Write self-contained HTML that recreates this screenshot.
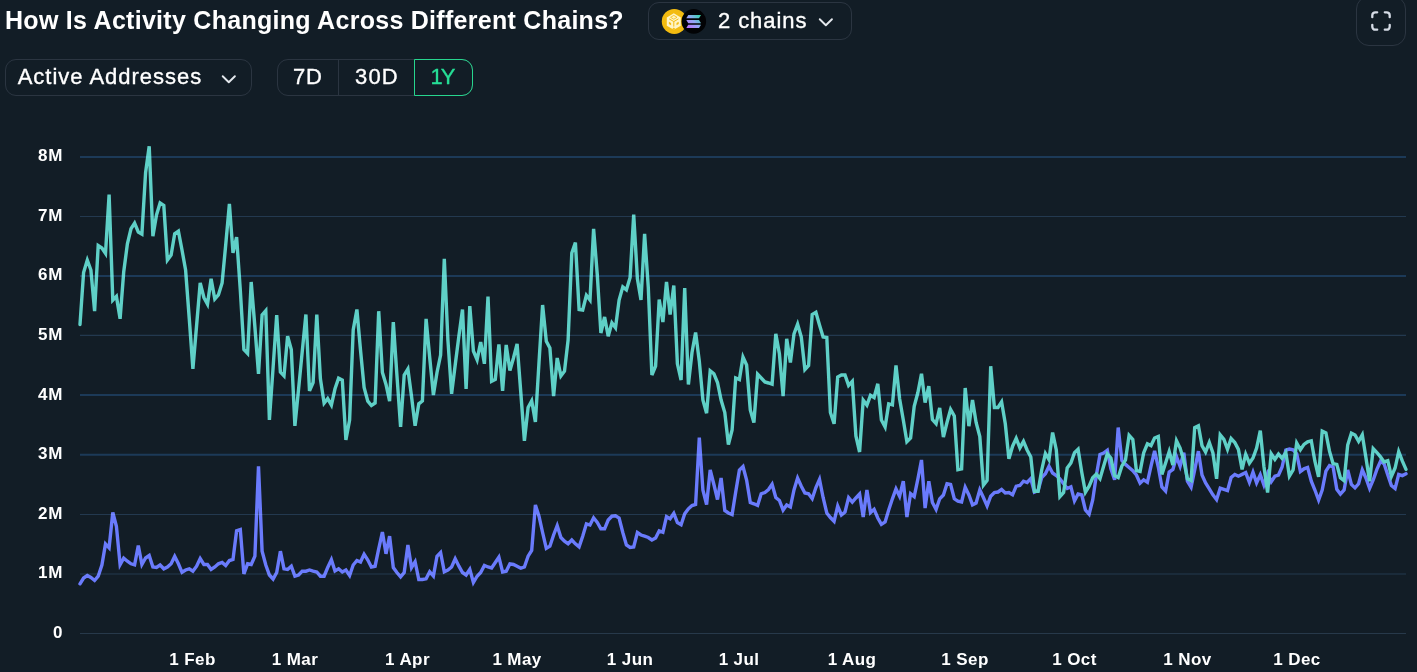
<!DOCTYPE html>
<html>
<head>
<meta charset="utf-8">
<title>How Is Activity Changing Across Different Chains?</title>
<style>
  html, body { margin: 0; padding: 0; }
  body {
    width: 1417px; height: 672px; overflow: hidden; position: relative;
    background: #121d26;
    font-family: "Liberation Sans", sans-serif;
    color: #ffffff;
  }
  .abs { position: absolute; white-space: nowrap; }
  .title {
    left: 5px; top: 6px; font-size: 25px; font-weight: bold; line-height: 29px;
    letter-spacing: 0.28px; color: #ffffff;
  }
  .box { position: absolute; box-sizing: border-box; border: 1px solid #2b3541; border-radius: 11px; }
  .txt { font-size: 22px; line-height: 26px; color: #ffffff; -webkit-text-stroke: 0.35px #ffffff; }
  .seg { position: absolute; box-sizing: border-box; top: 0; height: 36px; }
  .ylab { position: absolute; right: 1353.7px; letter-spacing: 0.8px; font-size: 17px; font-weight: bold; line-height: 20px; color: #ffffff; white-space: nowrap; }
  .xlab { position: absolute; top: 650px; font-size: 17px; font-weight: bold; line-height: 20px; color: #ffffff; white-space: nowrap; transform: translateX(-50%); letter-spacing: 0.4px; }
</style>
</head>
<body>

<!-- Title -->
<div class="abs title">How Is Activity Changing Across Different Chains?</div>

<!-- Chains selector -->
<div class="box" style="left:648px; top:2px; width:204px; height:38px;"></div>
<svg class="abs" style="left:660px; top:8px;" width="48" height="28" viewBox="0 0 48 28">
  <defs>
    <linearGradient id="solg" gradientUnits="userSpaceOnUse" x1="27" y1="20" x2="40.5" y2="7">
      <stop offset="0" stop-color="#c06cff"/>
      <stop offset="0.5" stop-color="#93a6f6"/>
      <stop offset="1" stop-color="#2fd9a4"/>
    </linearGradient>
  </defs>
  <circle cx="14.3" cy="13.4" r="12.5" fill="#f3bb10"/>
  <path d="M13.8 5.3 L20.8 9.4 L20.8 17.7 L13.8 21.8 L6.8 17.7 L6.8 9.4 Z" fill="#fff4c4"/>
  <g fill="none" stroke="#f3bb10" stroke-width="1" stroke-linejoin="round">
    <path d="M13.8 13.6 L13.8 18.6 M13.8 13.6 L9.2 10.9 M13.8 13.6 L18.4 10.9"/>
    <path d="M13.8 7.4 L17 9.3 L13.8 11.2 L10.6 9.3 Z" stroke-width="0.8"/>
  </g>
  <rect x="8.9" y="14.3" width="2.2" height="2.4" fill="#f3bb10" transform="skewY(30) translate(0 -5.8)"/>
  <rect x="16.5" y="14.3" width="2.2" height="2.4" fill="#f3bb10" transform="skewY(-30) translate(0 10.2)"/>
  <path d="M12.3 21 L13.8 19.6 L15.3 21 L13.8 21.9 Z" fill="#f3bb10"/>
  <circle cx="33.8" cy="13.4" r="12.3" fill="#020305"/>
  <g fill="url(#solg)">
    <path d="M28.3 6.9 L41 6.9 L39 10.2 L26.3 10.2 Z"/>
    <path d="M26.3 11.9 L39 11.9 L41 15.2 L28.3 15.2 Z"/>
    <path d="M28.3 16.7 L41 16.7 L39 20 L26.3 20 Z"/>
  </g>
</svg>
<div class="abs txt" style="left:718px; top:8px; letter-spacing:0.92px;">2 chains</div>
<svg class="abs" style="left:817px; top:16px;" width="18" height="12" viewBox="0 0 18 12">
  <path d="M2.75 3.25 L8.85 9.25 L14.95 3.25" fill="none" stroke="#e4e8ed" stroke-width="1.9" stroke-linecap="round" stroke-linejoin="round"/>
</svg>

<!-- Fullscreen button -->
<div class="box" style="left:1356px; top:-4px; width:50px; height:50px; border-radius:13px;"></div>
<svg class="abs" style="left:1369px; top:9.3px;" width="24" height="24" viewBox="0 0 24 24">
  <g fill="none" stroke="#d6dce6" stroke-width="2.3" stroke-linecap="round" stroke-linejoin="round">
    <path d="M3.3 8.2 V6.3 a3 3 0 0 1 3 -3 H8.2"/>
    <path d="M15.8 3.3 H17.7 a3 3 0 0 1 3 3 V8.2"/>
    <path d="M20.7 15.8 V17.7 a3 3 0 0 1 -3 3 H15.8"/>
    <path d="M8.2 20.7 H6.3 a3 3 0 0 1 -3 -3 V15.8"/>
  </g>
</svg>

<!-- Metric dropdown -->
<div class="box" style="left:5px; top:59px; width:247px; height:37px;"></div>
<div class="abs txt" style="left:17.7px; top:64px; letter-spacing:0.99px;">Active Addresses</div>
<svg class="abs" style="left:220px; top:72.5px;" width="18" height="12" viewBox="0 0 18 12">
  <path d="M2.7 3.2 L8.8 9.2 L14.9 3.2" fill="none" stroke="#e4e8ed" stroke-width="1.9" stroke-linecap="round" stroke-linejoin="round"/>
</svg>

<!-- Period toggle -->
<div class="box" style="left:277px; top:59px; width:196px; height:37px;">
  <div class="seg" style="left:60px; width:1px; background:#2b3541; top:0; height:35px;"></div>
</div>
<div class="box" style="left:414px; top:59px; width:59px; height:37px; border-color:#27d58e; border-radius:0 11px 11px 0;"></div>
<div class="abs txt" style="left:293px; top:64px; letter-spacing:0.8px;">7D</div>
<div class="abs txt" style="left:355px; top:64px; letter-spacing:1.2px;">30D</div>
<div class="abs txt" style="left:430.5px; top:64px; letter-spacing:-2px; color:#26df97; -webkit-text-stroke-color:#26df97;">1Y</div>

<!-- Chart -->
<svg class="abs" style="left:0; top:0;" width="1417" height="672" viewBox="0 0 1417 672">
  <!--PURPLE--><polyline id="purple" fill="none" stroke="#6a7bfc" stroke-width="3.4" stroke-linejoin="miter" stroke-miterlimit="4" stroke-linecap="round" points="80.0,583.8 83.6,578.0 87.3,575.5 90.9,577.5 94.6,580.5 98.2,576.2 101.9,565.0 105.5,543.9 109.1,547.8 112.8,512.5 116.4,526.2 120.1,564.7 123.7,558.2 127.4,561.2 131.0,563.8 134.6,564.9 138.3,545.5 141.9,564.5 145.6,558.0 149.2,555.5 152.9,567.0 156.5,567.5 160.1,565.0 163.8,568.8 167.4,567.0 171.1,563.8 174.7,556.4 178.4,563.8 182.0,572.3 185.6,570.0 189.3,568.8 192.9,571.2 196.6,566.2 200.2,558.6 203.9,564.5 207.5,564.5 211.1,569.5 214.8,567.0 218.4,563.8 222.1,562.5 225.7,565.6 229.4,560.5 233.0,559.5 236.6,530.8 240.3,529.6 243.9,573.8 247.6,563.8 251.2,564.5 254.9,556.2 258.5,466.2 262.1,551.2 265.8,565.0 269.4,575.0 273.1,579.0 276.7,572.5 280.4,551.2 284.0,568.8 287.6,569.5 291.3,566.2 294.9,576.2 298.6,575.0 302.2,571.2 305.9,571.2 309.5,570.0 313.1,571.2 316.8,572.0 320.4,576.2 324.1,576.2 327.7,567.5 331.4,559.7 335.0,570.9 338.6,568.8 342.3,572.0 345.9,570.0 349.6,575.5 353.2,565.0 356.9,560.5 360.5,562.0 364.1,554.2 367.8,560.0 371.4,567.0 375.1,566.2 378.7,548.8 382.4,532.0 386.0,553.8 389.6,536.2 393.3,567.5 396.9,572.5 400.6,576.8 404.2,572.5 407.9,545.0 411.5,567.6 415.1,561.7 418.8,579.5 422.4,579.5 426.1,578.8 429.7,571.8 433.4,576.0 437.0,556.2 440.6,552.5 444.3,571.7 447.9,570.0 451.6,567.0 455.2,558.7 458.9,566.2 462.5,572.5 466.1,575.0 469.8,569.3 473.4,582.5 477.1,576.2 480.7,572.5 484.4,565.5 488.0,567.0 491.6,568.0 495.3,562.5 498.9,557.2 502.6,572.0 506.2,571.2 509.9,563.8 513.5,564.5 517.1,566.2 520.8,568.2 524.4,567.0 528.1,556.2 531.7,550.5 535.4,505.0 539.0,516.2 542.6,532.5 546.3,548.3 549.9,546.2 553.6,535.0 557.2,525.7 560.9,537.5 564.5,541.2 568.1,543.8 571.8,540.0 575.4,543.8 579.1,546.9 582.7,536.2 586.4,523.8 590.0,525.0 593.6,517.8 597.3,522.5 600.9,528.8 604.6,528.8 608.2,520.0 611.9,516.2 615.5,515.8 619.1,518.0 622.8,532.5 626.4,545.0 630.1,547.5 633.7,547.0 637.4,532.6 641.0,535.0 644.6,536.2 648.3,537.5 651.9,540.0 655.6,538.0 659.2,530.8 662.9,532.3 666.5,516.7 670.1,518.8 673.8,513.3 677.4,522.5 681.1,524.7 684.7,513.8 688.4,508.8 692.0,505.5 695.6,504.5 699.3,437.5 702.9,490.0 706.6,504.5 710.2,470.0 713.9,484.5 717.5,499.5 721.1,478.0 724.8,510.5 728.4,513.0 732.1,514.6 735.7,492.0 739.4,470.0 743.0,466.5 746.6,480.0 750.3,502.5 753.9,503.8 757.6,505.4 761.2,493.8 764.9,492.5 768.5,489.5 772.1,484.2 775.8,497.5 779.4,500.5 783.1,510.1 786.7,505.0 790.4,507.0 794.0,490.0 797.6,478.0 801.3,486.2 804.9,493.0 808.6,493.8 812.2,498.7 815.9,487.5 819.5,479.4 823.1,497.5 826.8,513.0 830.4,517.5 834.1,521.3 837.7,506.1 841.4,515.0 845.0,512.0 848.6,497.7 852.3,502.2 855.9,498.0 859.6,494.0 863.2,517.0 866.9,490.0 870.5,512.6 874.1,509.3 877.8,518.0 881.4,524.4 885.1,522.0 888.7,510.0 892.4,498.8 896.0,488.9 899.6,496.2 903.3,481.2 906.9,517.0 910.6,493.6 914.2,496.6 917.9,478.8 921.5,460.0 925.1,508.0 928.8,481.2 932.4,502.5 936.1,509.4 939.7,498.8 943.4,495.0 947.0,483.8 950.6,484.5 954.3,498.8 957.9,501.2 961.6,502.0 965.2,487.2 968.9,495.0 972.5,504.8 976.1,503.0 979.8,489.9 983.4,497.5 987.1,505.9 990.7,496.2 994.4,492.5 998.0,492.0 1001.6,489.5 1005.3,493.0 1008.9,492.5 1012.6,494.8 1016.2,486.2 1019.9,485.5 1023.5,481.2 1027.1,482.5 1030.8,478.6 1034.4,492.2 1038.1,490.5 1041.7,477.5 1045.4,473.8 1049.0,466.3 1052.6,473.0 1056.3,475.5 1059.9,478.8 1063.6,483.8 1067.2,488.5 1070.9,486.8 1074.5,500.8 1078.1,494.0 1081.8,495.0 1085.4,510.0 1089.1,514.2 1092.7,500.0 1096.4,475.0 1100.0,454.4 1103.6,453.0 1107.3,450.2 1110.9,468.8 1114.6,479.8 1118.2,427.5 1121.9,460.6 1125.5,464.4 1129.1,467.5 1132.8,470.6 1136.4,475.0 1140.1,483.2 1143.7,479.8 1147.4,482.3 1151.0,466.2 1154.6,451.0 1158.3,467.0 1161.9,487.0 1165.6,491.1 1169.2,472.0 1172.9,469.4 1176.5,456.7 1180.1,466.3 1183.8,452.8 1187.4,481.2 1191.1,487.2 1194.7,470.0 1198.4,451.2 1202.0,475.0 1205.6,483.0 1209.3,488.8 1212.9,494.8 1216.6,499.7 1220.2,488.1 1223.9,489.4 1227.5,490.6 1231.1,477.5 1234.8,474.4 1238.4,476.2 1242.1,474.4 1245.7,472.6 1249.4,482.4 1253.0,472.2 1256.6,482.8 1260.3,474.7 1263.9,485.0 1267.6,473.6 1271.2,481.8 1274.9,476.2 1278.5,475.0 1282.1,467.0 1285.8,450.0 1289.4,449.0 1293.1,449.8 1296.7,453.8 1300.4,471.6 1304.0,468.8 1307.6,467.4 1311.3,481.2 1314.9,490.0 1318.6,500.0 1322.2,490.0 1325.9,471.2 1329.5,465.6 1333.1,467.0 1336.8,489.4 1340.4,494.1 1344.1,490.0 1347.7,470.0 1351.4,484.4 1355.0,487.9 1358.6,483.8 1362.3,469.8 1365.9,478.0 1369.6,488.4 1373.2,480.0 1376.9,469.4 1380.5,461.4 1384.1,463.8 1387.8,475.0 1391.4,485.6 1395.1,488.6 1398.7,474.5 1402.4,475.6 1406.0,473.8"/><!--/PURPLE-->
  <!--TEAL--><polyline id="teal" fill="none" stroke="#5fd0c7" stroke-width="3.4" stroke-linejoin="miter" stroke-miterlimit="4" stroke-linecap="round" points="80.0,324.5 83.6,272.5 87.3,260.1 90.9,270.0 94.6,311.2 98.2,245.5 101.9,248.0 105.5,253.4 109.1,194.5 112.8,300.1 116.4,296.4 120.1,318.8 123.7,272.0 127.4,243.8 131.0,228.8 134.6,223.2 138.3,232.0 141.9,234.1 145.6,172.5 149.2,146.2 152.9,236.2 156.5,215.0 160.1,203.0 163.8,205.5 167.4,260.0 171.1,255.0 174.7,233.8 178.4,231.2 182.0,250.0 185.6,270.0 189.3,319.0 192.9,368.8 196.6,325.5 200.2,283.0 203.9,297.5 207.5,304.1 211.1,278.8 214.8,299.0 218.4,295.0 222.1,283.0 225.7,245.0 229.4,203.8 233.0,253.0 236.6,237.0 240.3,290.0 243.9,349.5 247.6,353.5 251.2,282.0 254.9,327.0 258.5,373.8 262.1,315.0 265.8,310.7 269.4,420.0 273.1,367.5 276.7,315.0 280.4,372.0 284.0,375.8 287.6,336.2 291.3,349.5 294.9,425.8 298.6,388.8 302.2,351.8 305.9,314.5 309.5,390.8 313.1,382.5 316.8,314.5 320.4,378.8 324.1,403.2 327.7,398.6 331.4,405.1 335.0,388.8 338.6,378.2 342.3,380.0 345.9,440.0 349.6,420.0 353.2,330.0 356.9,309.5 360.5,350.0 364.1,387.5 367.8,401.2 371.4,405.5 375.1,403.0 378.7,311.2 382.4,372.5 386.0,384.5 389.6,401.2 393.3,322.0 396.9,375.0 400.6,427.0 404.2,375.0 407.9,369.0 411.5,396.2 415.1,425.8 418.8,403.8 422.4,401.0 426.1,318.8 429.7,357.5 433.4,395.0 437.0,372.5 440.6,355.0 444.3,258.8 447.9,340.0 451.6,393.8 455.2,365.0 458.9,336.0 462.5,309.5 466.1,388.8 469.8,306.2 473.4,351.0 477.1,359.7 480.7,342.0 484.4,363.8 488.0,296.5 491.6,381.3 495.3,379.5 498.9,344.5 502.6,390.8 506.2,345.0 509.9,370.5 513.5,358.0 517.1,343.8 520.8,392.5 524.4,440.8 528.1,407.5 531.7,400.8 535.4,422.0 539.0,362.5 542.6,305.0 546.3,341.2 549.9,348.0 553.6,396.2 557.2,358.0 560.9,375.9 564.5,371.2 568.1,340.0 571.8,253.0 575.4,242.5 579.1,309.5 582.7,310.0 586.4,295.3 590.0,300.0 593.6,228.8 597.3,275.0 600.9,333.0 604.6,317.0 608.2,336.2 611.9,322.8 615.5,327.8 619.1,300.0 622.8,286.9 626.4,289.9 630.1,277.5 633.7,214.5 637.4,278.8 641.0,300.0 644.6,233.8 648.3,287.5 651.9,375.0 655.6,366.2 659.2,299.5 662.9,322.0 666.5,282.0 670.1,314.5 673.8,285.5 677.4,363.8 681.1,380.0 684.7,288.0 688.4,384.5 692.0,352.5 695.6,332.5 699.3,361.2 702.9,400.0 706.6,413.2 710.2,370.8 713.9,373.8 717.5,382.5 721.1,400.0 724.8,412.5 728.4,444.5 732.1,430.0 735.7,378.0 739.4,379.6 743.0,357.1 746.6,365.0 750.3,410.0 753.9,422.5 757.6,374.2 761.2,378.0 764.9,382.0 768.5,383.0 772.1,384.2 775.8,333.8 779.4,353.8 783.1,396.2 786.7,338.8 790.4,362.5 794.0,333.8 797.6,324.2 801.3,337.0 804.9,369.5 808.6,365.5 812.2,314.5 815.9,312.4 819.5,325.0 823.1,337.0 826.8,337.5 830.4,412.5 834.1,423.8 837.7,377.0 841.4,375.0 845.0,375.0 848.6,385.4 852.3,381.4 855.9,436.0 859.6,452.0 863.2,400.1 866.9,405.1 870.5,395.3 874.1,397.5 877.8,383.8 881.4,420.0 885.1,427.0 888.7,403.9 892.4,404.8 896.0,365.5 899.6,398.8 903.3,420.0 906.9,441.7 910.6,438.0 914.2,406.2 917.9,392.5 921.5,373.8 925.1,402.5 928.8,386.2 932.4,419.5 936.1,423.7 939.7,408.0 943.4,437.0 947.0,422.5 950.6,409.5 954.3,416.0 957.9,469.7 961.6,468.8 965.2,388.0 968.9,426.2 972.5,400.0 976.1,422.5 979.8,436.5 983.4,485.2 987.1,480.5 990.7,366.2 994.4,407.5 998.0,407.5 1001.6,401.8 1005.3,423.8 1008.9,458.8 1012.6,446.2 1016.2,438.3 1019.9,447.9 1023.5,441.4 1027.1,450.0 1030.8,457.0 1034.4,491.2 1038.1,491.2 1041.7,470.0 1045.4,453.5 1049.0,459.7 1052.6,432.5 1056.3,450.0 1059.9,496.7 1063.6,492.5 1067.2,468.0 1070.9,463.0 1074.5,452.8 1078.1,449.3 1081.8,472.5 1085.4,492.3 1089.1,486.2 1092.7,477.8 1096.4,474.1 1100.0,478.7 1103.6,466.2 1107.3,453.9 1110.9,458.0 1114.6,475.6 1118.2,477.5 1121.9,466.0 1125.5,460.0 1129.1,435.3 1132.8,439.4 1136.4,470.6 1140.1,471.5 1143.7,452.8 1147.4,443.8 1151.0,445.6 1154.6,438.0 1158.3,436.5 1161.9,474.4 1165.6,463.0 1169.2,451.6 1172.9,465.0 1176.5,440.7 1180.1,448.0 1183.8,460.6 1187.4,478.8 1191.1,480.6 1194.7,427.5 1198.4,425.7 1202.0,445.6 1205.6,452.0 1209.3,442.5 1212.9,453.0 1216.6,478.8 1220.2,434.8 1223.9,439.4 1227.5,449.3 1231.1,438.5 1234.8,442.5 1238.4,449.4 1242.1,469.4 1245.7,454.2 1249.4,463.2 1253.0,458.0 1256.6,448.0 1260.3,430.6 1263.9,466.2 1267.6,492.5 1271.2,453.8 1274.9,459.5 1278.5,454.1 1282.1,458.3 1285.8,452.5 1289.4,476.1 1293.1,470.0 1296.7,443.1 1300.4,449.7 1304.0,444.4 1307.6,441.9 1311.3,440.8 1314.9,461.2 1318.6,476.9 1322.2,431.2 1325.9,433.0 1329.5,451.2 1333.1,463.8 1336.8,464.4 1340.4,477.8 1344.1,480.7 1347.7,445.0 1351.4,433.2 1355.0,435.0 1358.6,441.4 1362.3,434.8 1365.9,457.5 1369.6,481.2 1373.2,448.6 1376.9,452.5 1380.5,456.9 1384.1,461.9 1387.8,460.7 1391.4,476.4 1395.1,468.0 1398.7,451.6 1402.4,461.2 1406.0,469.4"/><!--/TEAL-->
</svg>

<!-- Gridlines (drawn over the series, screen-blended like the source) -->
<svg class="abs" style="left:0; top:0; mix-blend-mode:screen; pointer-events:none;" width="1417" height="672" viewBox="0 0 1417 672">
  <g stroke="#0b213b" stroke-width="2" fill="none">
    <line x1="80" y1="157" x2="1406" y2="157"/>
    <line x1="80" y1="276" x2="1406" y2="276"/>
    <line x1="80" y1="395" x2="1406" y2="395"/>
    <line x1="80" y1="454.8" x2="1406" y2="454.8"/>
  </g>
  <g stroke="#122030" stroke-width="1.1" fill="none">
    <line x1="80" y1="216.5" x2="1406" y2="216.5"/>
    <line x1="80" y1="335.4" x2="1406" y2="335.4"/>
    <line x1="80" y1="514.5" x2="1406" y2="514.5"/>
    <line x1="80" y1="574" x2="1406" y2="574"/>
  </g>
  <line x1="80" y1="633.5" x2="1406" y2="633.5" stroke="#17202a" stroke-width="1"/>
</svg>

<!-- Y labels -->
<div class="ylab" style="top:146px;">8M</div>
<div class="ylab" style="top:206px;">7M</div>
<div class="ylab" style="top:265px;">6M</div>
<div class="ylab" style="top:325px;">5M</div>
<div class="ylab" style="top:385px;">4M</div>
<div class="ylab" style="top:444px;">3M</div>
<div class="ylab" style="top:504px;">2M</div>
<div class="ylab" style="top:563px;">1M</div>
<div class="ylab" style="top:623px;">0</div>

<!-- X labels -->
<div class="xlab" style="left:192.5px;">1 Feb</div>
<div class="xlab" style="left:295px;">1 Mar</div>
<div class="xlab" style="left:407.5px;">1 Apr</div>
<div class="xlab" style="left:517px;">1 May</div>
<div class="xlab" style="left:630px;">1 Jun</div>
<div class="xlab" style="left:739px;">1 Jul</div>
<div class="xlab" style="left:852px;">1 Aug</div>
<div class="xlab" style="left:965px;">1 Sep</div>
<div class="xlab" style="left:1074.5px;">1 Oct</div>
<div class="xlab" style="left:1187.5px;">1 Nov</div>
<div class="xlab" style="left:1297px;">1 Dec</div>

</body>
</html>
